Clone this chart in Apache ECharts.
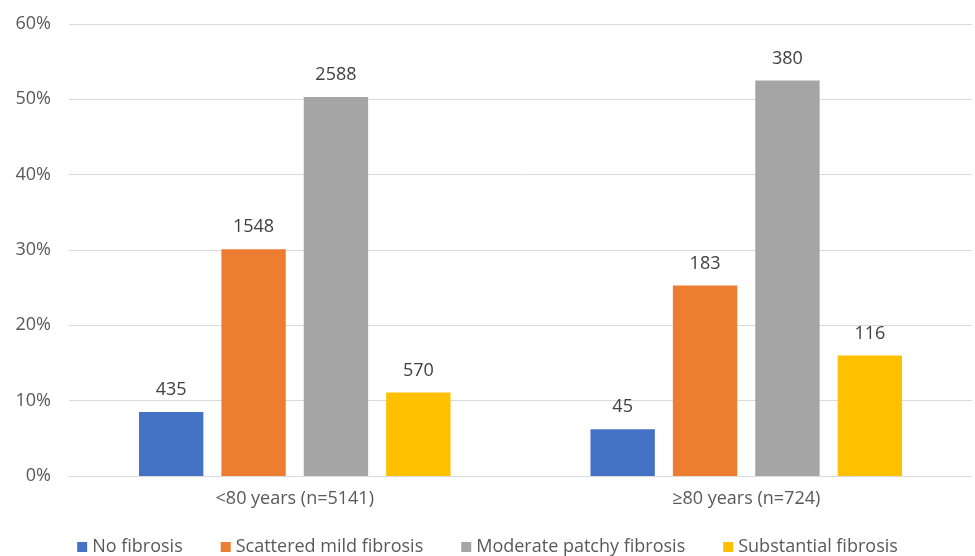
<!DOCTYPE html>
<html>
<head>
<meta charset="utf-8">
<script src="https://cdn.jsdelivr.net/npm/echarts@6/dist/echarts.min.js"></script>
<style>
  html, body { margin: 0; padding: 0; background: #fff; }
  #chart { width: 975px; height: 556px; }
</style>
</head>
<body>
<div id="chart"></div>
<script>
var categories = ['<80 years (n=5141)', '≥80 years (n=724)'];
var seriesNames = ['No fibrosis', 'Scattered mild fibrosis', 'Moderate patchy fibrosis', 'Substantial fibrosis'];
var colors = ['#4472C4', '#ED7D31', '#A5A5A5', '#FFC000'];
// bar heights in percent
var noFibrosis = [8.5, 6.2];
var mildFibrosis = [30.1, 25.3];
var moderateFibrosis = [50.3, 52.5];
var substantialFibrosis = [11.1, 16.0];
// counts shown above bars
var noFibrosisN = [435, 45];
var mildFibrosisN = [1548, 183];
var moderateFibrosisN = [2588, 380];
var substantialFibrosisN = [570, 116];

var values = [noFibrosis, mildFibrosis, moderateFibrosis, substantialFibrosis];
var counts = [noFibrosisN, mildFibrosisN, moderateFibrosisN, substantialFibrosisN];

var myChart = echarts.init(document.getElementById('chart'));
var fontFamily = '"Open Sans", "DejaVu Sans", sans-serif';

var series = [];
for (let i = 0; i < seriesNames.length; i++) {
    let cnt = counts[i];
    series.push({
        name: seriesNames[i],
        type: 'bar',
        data: values[i],
        itemStyle: { color: colors[i] },
        barGap: '28%',
        barCategoryGap: '31%',
        label: {
            show: true,
            position: 'top',
            distance: 13,
            fontSize: 18,
            fontFamily: fontFamily,
            color: '#404040',
            formatter: function (p) { return cnt[p.dataIndex]; }
        }
    });
}

var option = {
    animation: false,
    textStyle: { fontFamily: fontFamily, color: '#595959' },
    grid: { left: 69, right: 3, top: 24, bottom: 80 },
    legend: {
        data: seriesNames,
        top: 533,
        left: 'center',
        itemWidth: 10,
        itemHeight: 10,
        itemGap: 38,
        icon: 'rect',
        textStyle: { fontSize: 18, color: '#595959', fontFamily: fontFamily }
    },
    xAxis: {
        type: 'category',
        data: categories,
        axisTick: { show: false },
        axisLine: { lineStyle: { color: '#D9D9D9' } },
        axisLabel: { fontSize: 18, color: '#595959', margin: 14 }
    },
    yAxis: {
        type: 'value',
        min: 0,
        max: 60,
        interval: 10,
        axisLabel: { formatter: '{value}%', fontSize: 18, color: '#595959', margin: 18 },
        splitLine: { lineStyle: { color: '#D9D9D9' } },
        axisLine: { show: false },
        axisTick: { show: false }
    },
    series: series
};
myChart.setOption(option);
</script>
</body>
</html>
